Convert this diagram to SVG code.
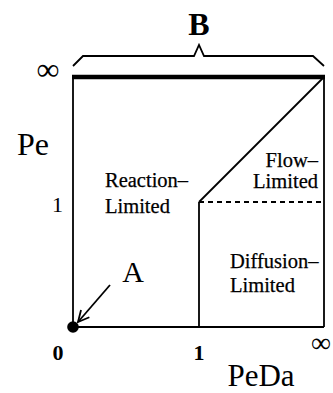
<svg xmlns="http://www.w3.org/2000/svg" width="333" height="393" viewBox="0 0 333 393">
<style>
text{font-family:"Liberation Serif","Times New Roman",serif;fill:#000}
.ln{stroke:#000;stroke-width:1.8;fill:none}
.lbl{font-size:20.5px;stroke:#000;stroke-width:0.25}
.big{font-size:32px}
.num{font-size:22px}
</style>
<defs>
<marker id="open" markerWidth="14" markerHeight="14" refX="12" refY="7" orient="auto" markerUnits="userSpaceOnUse">
<path d="M1,1.5 L12,7 L1,12.5" fill="none" stroke="#000" stroke-width="1.8"/>
</marker>
</defs>
<rect width="333" height="393" fill="#fff"/>
<g id="connectors">
<line class="ln" x1="73" y1="77" x2="73" y2="327"/>
<line class="ln" x1="73" y1="327" x2="324" y2="327"/>
<line class="ln" x1="324" y1="77" x2="324" y2="327"/>
<line x1="72" y1="77" x2="325" y2="77" stroke="#000" stroke-width="4.5"/>
<line class="ln" x1="199" y1="202" x2="199" y2="327"/>
<line class="ln" x1="199" y1="202" x2="324" y2="77"/>
<line class="ln" x1="199" y1="202" x2="324" y2="202" stroke-dasharray="5,4"/>
<path class="ln" d="M73,66 L83,56 L194,56 L199,45 L204,56 L313,56 L324,66"/>
<line class="ln" x1="110" y1="285" x2="78" y2="322" marker-end="url(#open)"/>
</g>
<g id="origin"><circle cx="73" cy="327" r="5.8" fill="#000"/></g>
<g id="label-B"><text x="199" y="35" class="big" font-weight="bold" text-anchor="middle">B</text></g>
<g id="label-A"><text x="133" y="282" font-size="30" text-anchor="middle">A</text></g>
<g id="label-Pe"><text x="33" y="155" class="big" text-anchor="middle">Pe</text></g>
<g id="label-PeDa"><text x="261" y="386" font-size="31" text-anchor="middle">PeDa</text></g>
<g id="tick-inf-y"><text x="48" y="80" font-size="32" text-anchor="middle">∞</text></g>
<g id="tick-1-y"><text x="63" y="212" class="num" text-anchor="end">1</text></g>
<g id="tick-0-x"><text x="58" y="360" class="num" font-weight="bold" text-anchor="middle">0</text></g>
<g id="tick-1-x"><text x="199" y="360" class="num" font-weight="bold" text-anchor="middle">1</text></g>
<g id="tick-inf-x"><text x="331" y="352" font-size="28" text-anchor="end">∞</text></g>
<g id="region-reaction"><text class="lbl" x="105" y="187">Reaction–</text><text class="lbl" x="105" y="213">Limited</text></g>
<g id="region-flow"><text class="lbl" x="318" y="167" text-anchor="end">Flow–</text><text class="lbl" x="318" y="188" text-anchor="end">Limited</text></g>
<g id="region-diffusion"><text class="lbl" x="230" y="268">Diffusion–</text><text class="lbl" x="230" y="292">Limited</text></g>
</svg>
